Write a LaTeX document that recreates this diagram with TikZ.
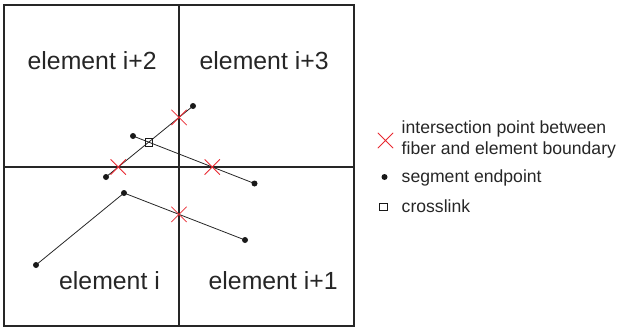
\documentclass[tikz,border=0pt]{standalone}
\usepackage{fontspec}
\setmainfont{Liberation Sans}
\usetikzlibrary{shapes.misc}
\definecolor{xred}{RGB}{232,40,48}
\begin{document}
\begin{tikzpicture}[x=1pt,y=-1pt,
  grid/.style={line width=1.1pt,black!85},
  fiber/.style={line width=0.8pt,black!85},
  xmk/.style={cross out,draw=xred,line width=0.8pt,minimum size=14.5pt,inner sep=0pt},
  endpt/.style={circle,fill=black!90,minimum size=6pt,inner sep=0pt},
  clink/.style={rectangle,draw=black!90,line width=0.7pt,minimum size=7.5pt,inner sep=0pt},
  elab/.style={anchor=base west,inner sep=0pt,font=\fontsize{24.8}{28}\selectfont,text=black!85},
  llab/.style={anchor=base west,inner sep=0pt,font=\fontsize{17.6}{19}\selectfont,text=black!85,align=left}]
\useasboundingbox (0,0) rectangle (620,329);
% grid
\coordinate (tl) at (4,5);
\coordinate (br) at (354,326);
\coordinate (vt) at (179,5);
\coordinate (vb) at (179,326);
\coordinate (hl) at (4,167);
\coordinate (hr) at (354,167);
\draw[grid] (tl) rectangle (br);
\draw[grid] (vt) -- (vb);
\draw[grid] (hl) -- (hr);
% labels
\node[elab] (e2) at (27.5,69.5) {element i+2};
\node[elab] (e3) at (199.5,69) {element i+3};
\node[elab] (e0) at (59,289.5) {element i};
\node[elab] (e1) at (208.5,289.5) {element i+1};
% fibers
\coordinate (A) at (193,106);
\coordinate (B) at (106,177);
\coordinate (C) at (133,136);
\coordinate (D) at (254.5,183.5);
\coordinate (E) at (36,265);
\coordinate (F) at (124,193);
\coordinate (G) at (245,240);
\draw[fiber] (A) -- (B);
\draw[fiber] (C) -- (D);
\draw[fiber] (E) -- (F) -- (G);
% crosses
\node[xmk] (x1) at (intersection of A--B and vt--vb) {};
\node[xmk] (x2) at (intersection of A--B and hl--hr) {};
\node[xmk] (x3) at (intersection of C--D and hl--hr) {};
\node[xmk] (x4) at (intersection of F--G and vt--vb) {};
% crosslink
\node[clink] (cl) at (intersection of A--B and C--D) {};
% endpoints
\foreach \p in {A,B,C,D,E,F,G} \node[endpt] (d\p) at (\p) {};
% legend
\node[xmk] (lx) at (385.5,140.5) {};
\node[llab] (lt1) at (401.5,133.5) {intersection point between};
\node[llab] (lt2) at (401.5,154.5) {fiber and element boundary};
\node[endpt] (ld) at (384.5,177) {};
\node[llab] (lt3) at (401.5,182) {segment endpoint};
\node[clink] (lc) at (383.5,207) {};
\node[llab] (lt4) at (401.5,212) {crosslink};
\end{tikzpicture}
\end{document}
